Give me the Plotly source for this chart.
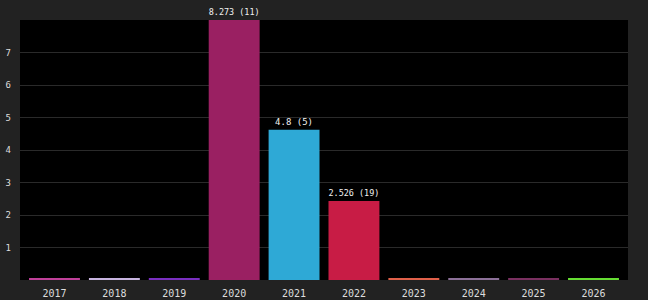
import plotly.graph_objects as go

years = ["2017", "2018", "2019", "2020", "2021", "2022", "2023", "2024", "2025", "2026"]
values = [0.04, 0.04, 0.04, 8.0, 4.62, 2.43, 0.04, 0.04, 0.04, 0.04]
labels = ["", "", "", "8.273 (11)", "4.8 (5)", "2.526 (19)", "", "", "", ""]
colors = ["#c0409a", "#c8b4e0", "#7a2fc0", "#9a2062", "#2ea9d6", "#c81c45",
          "#e0604a", "#8c7098", "#7a3060", "#66dd33"]
y_ticks = [1, 2, 3, 4, 5, 6, 7]

fig = go.Figure(go.Bar(
    x=years, y=values, width=0.85,
    marker=dict(color=colors, line=dict(width=0)),
    text=labels, textposition="outside", cliponaxis=False,
    textfont=dict(family="DejaVu Sans Mono", size=9, color="#f0f0f0"),
    hoverinfo="skip",
))

fig.update_layout(
    width=648, height=300,
    margin=dict(l=20, r=20, t=20, b=20, autoexpand=False),
    paper_bgcolor="#222222", plot_bgcolor="#000000",
    showlegend=False,
    font=dict(family="DejaVu Sans Mono", color="#dddddd"),
)
fig.update_xaxes(type="category", range=[-0.576, 9.576], automargin=False,
                 showgrid=False, zeroline=False, showline=False,
                 tickfont=dict(size=10, color="#dddddd"), ticks="", ticklabelstandoff=6)
fig.update_yaxes(range=[0, 8], tickvals=y_ticks, automargin=False,
                 showgrid=True, gridcolor="#2a2a2a",
                 gridwidth=1, zeroline=False, showline=False,
                 tickfont=dict(size=9, color="#dddddd"), ticks="", ticklabelstandoff=8)

fig.write_html("out.html")
